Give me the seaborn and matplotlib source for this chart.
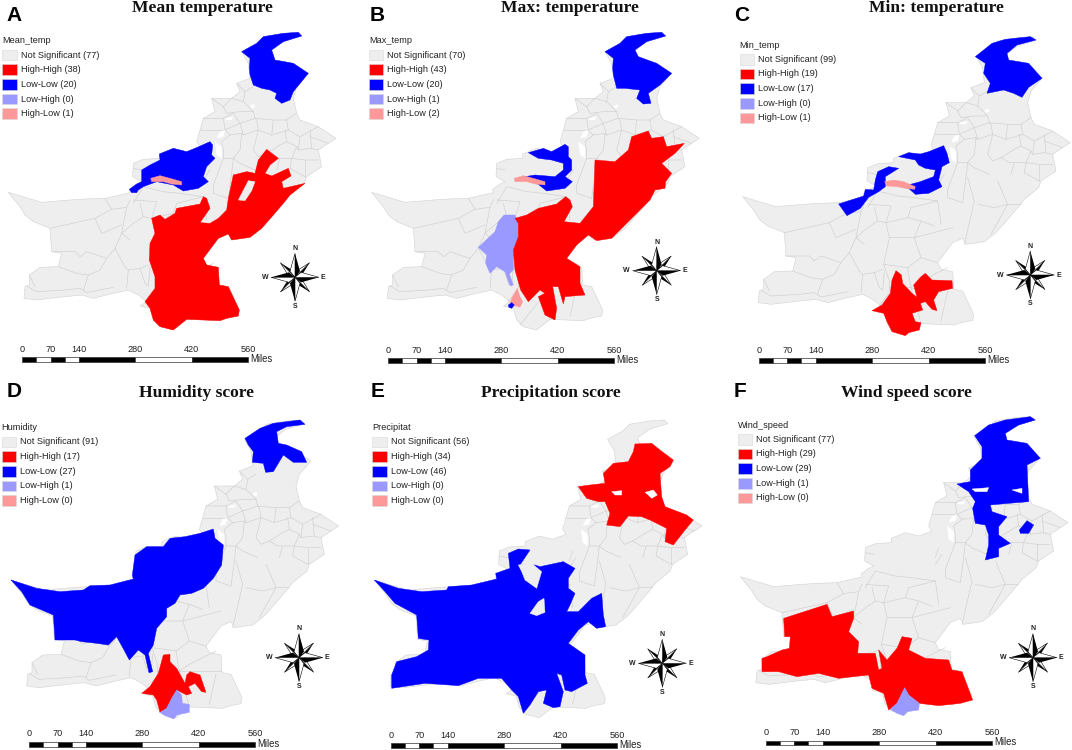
import matplotlib
matplotlib.use("Agg")
import matplotlib.pyplot as plt
import pandas as pd
import seaborn as sns

sns.set_theme(style="white")
plt.rcParams["font.family"] = ["Liberation Sans", "DejaVu Sans"]

GREY, RED, BLUE, LAV, PINK = "#eeeeee", "#ff0000", "#0000ff", "#9999ff", "#ff9999"
LEGEND_LABELS = ["Not Significant", "High-High", "Low-Low", "Low-High", "High-Low"]
LEGEND_COLORS = [GREY, RED, BLUE, LAV, PINK]
SCALE_LABELS = [0, 70, 140, 280, 420, 560]
SCALE_STOPS = [0, 35, 70, 105, 140, 280, 420, 560]

# Outline of the country, in the coordinates of panel A
country = [(25,577),(75,592),(125,607),(210,600),(255,597),(315,595),(390,578),(388,568),(410,552),(425,545),(398,530),(400,490),
           (430,478),(478,475),(478,462),(520,445),(560,455),(600,440),(590,425),(600,390),(610,355),(645,335),(635,295),(695,295),
           (720,275),(710,250),(750,235),(745,190),(725,155),(770,130),(790,110),(850,100),(895,97),(905,108),(850,125),(815,150),
           (825,180),(880,190),(925,220),(890,260),(880,295),(890,340),(900,360),(955,380),(1008,415),(985,430),(955,450),(965,500),
           (920,530),(913,550),(870,585),(850,610),(820,645),(785,685),(750,712),(695,720),(685,702),(655,715),(610,775),(620,795),
           (655,802),(658,855),(685,860),(718,930),(715,948),(680,955),(660,962),(560,958),(520,990),(480,980),(460,960),(450,925),
           (420,918),(440,905),(415,885),(385,870),(340,880),(280,895),(245,885),(195,890),(110,900),(72,895),(75,860),(88,855),
           (88,825),(120,802),(175,800),(185,760),(155,755),(150,685),(100,665),(75,645),(60,620)]
holes = [[(645,425),(665,440),(665,475),(650,465)], [(650,415),(660,395),(675,390),(670,410)],
         [(675,355),(700,350),(695,360),(680,360)], [(750,318),(762,312),(765,322),(755,326)]]

# District boundaries, in the coordinates of panel A
districts = [
    [(710,250),(735,275),(730,305),(695,295)], [(735,275),(760,260)], [(730,305),(760,335),(765,355)],
    [(695,295),(670,320),(635,295)], [(670,320),(680,340),(720,335),(760,335)], [(610,355),(670,355),(700,340)],
    [(670,355),(675,390),(720,370),(765,355)], [(700,340),(720,370),(730,405),(775,390),(770,360),(765,355)],
    [(600,390),(650,390),(675,390)], [(675,390),(690,405),(725,400),(730,405)], [(690,405),(665,425),(670,450),(670,475)],
    [(725,400),(720,450),(700,475)], [(765,355),(820,360),(860,360),(890,340)], [(820,360),(815,405),(775,390)],
    [(775,390),(760,450),(775,470),(800,460)], [(860,360),(865,390),(815,405)], [(865,390),(900,410),(955,380)],
    [(900,410),(895,450),(930,445),(955,450)], [(930,410),(985,430)], [(930,390),(935,445)], [(800,460),(840,435),(860,425),(890,440),(895,450)],
    [(860,425),(855,390)], [(890,440),(875,475),(915,480),(955,480)], [(800,460),(825,475),(875,475)], [(915,480),(915,530)],
    [(875,475),(870,505),(915,530)], [(840,475),(830,510)], [(670,475),(700,475),(720,490),(765,510)], [(670,475),(640,555),(640,580),(685,595)],
    [(700,475),(695,520),(685,595)], [(630,510),(610,540)], [(620,490),(610,520)],
    [(610,590),(530,610),(520,640),(455,655)], [(455,655),(430,650),(400,670),(365,700)], [(520,640),(560,650),(600,665)],
    [(430,560),(490,575),(540,580),(610,590)], [(400,600),(470,605),(455,655)], [(400,505),(425,510)],
    [(455,655),(465,700),(448,780),(465,830),(465,865),(435,905)], [(560,650),(540,700),(560,760),(610,775)],
    [(465,700),(540,700),(655,670)], [(448,780),(520,790),(560,760)], [(520,790),(530,850),(465,850)], [(530,850),(655,850)],
    [(530,850),(560,958)], [(610,590),(620,660)], [(640,790),(560,830),(530,850)], [(640,860),(620,950)], [(470,975),(530,900)],
    [(700,520),(720,590),(690,720)], [(790,530),(820,600),(770,690)], [(730,600),(780,610),(820,600),(860,600)],
    [(315,595),(335,628),(285,655),(150,685)], [(335,628),(380,622)], [(285,655),(305,700),(365,675)],
    [(390,600),(380,622),(365,700),(345,745),(320,775),(300,810),(265,825),(250,870)],
    [(155,755),(225,755),(240,770),(260,755),(310,772),(320,775)], [(175,800),(230,820),(265,825)],
    [(345,745),(375,800),(385,810),(380,865)], [(385,810),(420,805),(445,795)], [(420,805),(435,850),(445,858),(450,800)],
    [(80,858),(110,875),(195,870),(240,865),(260,878),(340,862)], [(88,825),(105,860)], [(365,700),(390,720)],
    [(400,610),(430,560)], [(430,650),(420,610)],
]

# Panel A regions, in the coordinates of its own crop
a_blue_north = [(725,155),(770,130),(790,110),(850,100),(895,97),(905,108),(850,125),(815,150),(825,180),(880,190),(925,220),
                (880,275),(870,300),(845,310),(825,295),(830,280),(810,270),(785,265),(760,255),(750,225),(748,205),(750,175)]
a_blue_mid = [(388,568),(410,552),(425,545),(425,510),(450,495),(480,480),(478,462),(520,445),(560,455),(585,445),(630,425),
              (638,435),(635,465),(645,475),(620,500),(610,530),(625,545),(595,565),(550,573),(520,555),(470,545),(430,560),
              (415,570),(410,578),(395,578)]
a_pink = [(452,535),(480,527),(510,535),(545,545),(545,555),(515,552),(490,545),(455,545)]
a_red = [(455,655),(480,645),(495,658),(525,640),(530,625),(600,612),(610,590),(620,595),(630,625),(600,668),(630,670),(655,655),
         (680,630),(685,595),(700,525),(740,515),(765,520),(775,480),(800,448),(835,475),(810,495),(795,520),(815,528),(865,505),
         (873,528),(845,545),(850,565),(915,550),(870,585),(850,610),(820,645),(785,685),(750,712),(695,720),(685,702),(655,715),
         (610,775),(620,795),(655,802),(658,855),(685,860),(718,930),(715,948),(680,955),(660,962),(560,958),(520,990),(480,980),
         (460,960),(450,925),(435,905),(465,865),(465,830),(448,780),(450,730),(465,700)]
a_gap = [(715,600),(745,542),(765,545),(755,572),(735,602)]

# Panel B regions
b_blue_north = [(750,155),(795,130),(815,110),(875,100),(920,97),(932,108),(875,125),(840,150),(850,170),(905,190),(950,220),
                (915,255),(880,280),(888,310),(865,312),(845,295),(855,270),(810,265),(785,265),(775,225),(773,205),(775,175)]
b_blue_mid = [(520,458),(565,445),(590,455),(630,433),(640,440),(640,470),(650,480),(650,510),(630,530),(652,545),(630,565),
              (575,573),(540,545),(510,530),(540,525),(600,530),(625,510),(625,490),(590,480),(550,475)]
b_pink_top = [(477,535),(505,527),(535,535),(570,545),(570,555),(540,552),(515,545),(480,545)]
b_pink_low = [(470,895),(487,865),(495,890),(503,905),(495,922),(465,912)]
b_blue_dot = [(460,915),(470,908),(478,915),(470,925),(462,922)]
b_lav = [(370,742),(420,695),(430,665),(447,645),(480,645),(490,670),(490,710),(475,750),(475,810),(463,822),(475,855),(465,857),
         (450,815),(425,800),(405,820),(392,790),(395,765)]
b_red = [(480,655),(515,645),(550,625),(605,612),(632,590),(645,600),(652,620),(627,665),(675,670),(715,620),(720,480),(780,485),
         (820,450),(830,410),(880,393),(890,415),(925,410),(935,440),(988,430),(960,460),(920,490),(950,520),(932,545),(930,565),
         (900,570),(885,600),(845,640),(805,680),(770,715),(725,722),(700,705),(665,735),(635,775),(675,800),(675,850),(690,885),
         (630,890),(625,912),(610,860),(593,860),(605,925),(600,960),(570,945),(550,890),(570,880),(555,870),(520,905),(497,870),
         (480,810),(475,750),(490,710),(490,670)]

# Panel C regions
c_blue_north = [(790,170),(840,130),(880,118),(955,110),(972,120),(915,135),(885,160),(890,180),(950,190),(990,235),(950,262),
                (930,292),(905,280),(875,270),(825,280),(835,250),(815,220),(820,190)]
c_blue_mid = [(560,470),(590,458),(625,462),(650,455),(695,437),(705,460),(712,488),(690,500),(680,540),(690,560),(650,580),
              (610,583),(590,565),(570,560),(625,545),(665,530),(670,510),(640,505),(620,495),(610,480)]
c_blue_west = [(380,612),(455,588),(460,568),(485,570),(490,540),(497,515),(530,500),(560,505),(520,530),(520,560),(500,575),
               (470,592),(445,625),(405,647)]
c_pink = [(518,545),(545,540),(575,545),(610,560),(608,568),(580,565),(555,560),(525,558)]
c_red = [(552,812),(568,825),(572,850),(600,880),(615,892),(605,855),(625,832),(640,820),(660,840),(720,842),(722,865),(680,875),
         (665,900),(675,932),(660,928),(640,905),(625,910),(632,930),(600,940),(610,965),(627,968),(622,990),(590,998),(580,1007),
         (540,995),(525,965),(515,940),(480,932),(510,915),(535,880),(540,840)]

# Panel D regions
d_blue_north = [(735,190),(780,160),(820,145),(900,135),(915,148),(860,155),(830,170),(835,205),(860,210),(905,230),(920,262),
                (880,262),(850,240),(820,290),(797,292),(790,265),(757,262),(760,230),(745,210)]
d_blue_big = [(33,615),(110,640),(180,650),(250,645),(270,632),(330,630),(400,612),(397,600),(405,540),(440,515),(490,515),(510,490),
              (555,485),(600,475),(640,462),(645,490),(670,510),(665,570),(640,610),(610,640),(575,655),(540,660),(525,685),(500,700),
              (500,725),(470,760),(460,810),(445,835),(458,890),(447,893),(435,840),(415,825),(388,855),(372,825),(350,785),(325,810),
              (290,805),(245,800),(225,795),(165,795),(160,720),(90,690),(65,650)]
d_red = [(490,840),(510,838),(510,860),(530,880),(555,925),(560,900),(570,890),(600,900),(618,952),(605,950),(585,925),(565,935),
         (575,955),(560,960),(530,945),(515,970),(500,1000),(480,1012),(470,975),(460,960),(425,955),(450,935),(475,895)]
d_lav = [(530,945),(545,960),(547,985),(568,988),(568,1012),(530,1020),(522,1032),(495,1022),(480,1012),(500,1000),(515,970)]

# Panel E regions
e_red = [(840,207),(890,205),(915,225),(955,255),(945,275),(915,295),(920,365),(930,395),(995,420),(1015,435),(990,465),(955,510),
         (930,500),(935,460),(885,435),(860,425),(820,423),(795,455),(755,450),(765,415),(750,380),(730,380),(695,370),(670,335),
         (705,330),(750,325),(745,295),(775,265),(820,260),(835,230)]
e_blue = [(58,615),(130,640),(200,650),(275,645),(280,635),(350,630),(425,612),(422,595),(465,580),(460,535),(490,522),(525,525),
          (495,570),(540,570),(555,575),(625,560),(660,580),(640,610),(640,640),(660,655),(645,690),(635,710),(670,710),(710,670),
          (740,655),(745,720),(752,755),(725,760),(700,740),(670,765),(640,805),(690,840),(690,900),(697,925),(650,950),(630,945),
          (620,900),(605,895),(625,950),(615,995),(595,998),(565,985),(575,945),(550,950),(525,990),(505,1015),(490,965),(470,945),
          (440,910),(370,910),(310,932),(210,925),(110,940),(110,900),(125,860),(185,845),(220,825),(222,795),(190,790),(185,720),
          (120,685),(90,650)]
e_gap_1 = [(490,570),(530,565),(560,590),(545,640),(510,615),(500,590)]
e_gap_2 = [(525,715),(550,680),(567,670),(570,712),(545,722)]
e_hole_1 = [(770,350),(800,347),(800,360),(780,360)]
e_hole_2 = [(870,352),(895,345),(907,360),(890,370),(880,360)]

# Panel F regions
f_blue = [(788,182),(830,150),(880,135),(955,125),(970,135),(920,150),(880,175),(885,195),(945,205),(985,250),(945,270),(950,380),
          (890,385),(835,390),(840,410),(885,425),(860,455),(860,480),(895,505),(860,520),(860,545),(820,555),(830,510),(830,480),
          (820,450),(790,445),(782,400),(790,380),(770,350),(735,327),(775,320),(775,285),(810,250),(810,215)]
f_blue_dot = [(922,465),(945,437),(965,450),(950,475),(925,475)]
f_hole_1 = [(780,342),(830,338),(825,350),(790,350)]
f_hole_2 = [(900,345),(930,340),(930,355),(915,350)]
f_lav = [(578,938),(590,960),(622,985),(620,1005),(585,1010),(575,1022),(555,1015),(535,1003),(555,985)]
f_red = [(150,850),(165,845),(210,825),(232,820),(235,785),(218,785),(215,730),(345,688),(360,725),(425,708),(425,730),(410,770),
         (440,800),(437,835),(490,835),(500,885),(510,880),(500,825),(525,855),(555,820),(570,785),(600,790),(590,825),(640,850),
         (710,855),(720,885),(750,890),(782,975),(745,985),(680,992),(622,985),(590,960),(578,938),(555,985),(530,1005),(515,955),
         (480,940),(470,900),(380,910),(320,895),(255,905),(200,890),(150,890)]

panels = [
    dict(letter="A", title="Mean temperature", field="Mean_temp", counts=[77,38,20,0,1], crop=(0,0), shift=(0,0),
         title_xy=(607,24), letter_xy=(42,46), legend_xy=(7,122), scale_xy=(67,1078), rose=(885,832),
         regions=[(a_blue_north,BLUE),(a_blue_mid,BLUE),(a_pink,PINK),(a_red,RED),(a_gap,GREY)]),
    dict(letter="B", title="Max: temperature", field="Max_temp", counts=[70,43,20,1,2], crop=(355,0), shift=(25,0),
         title_xy=(645,24), letter_xy=(68,46), legend_xy=(42,122), scale_xy=(100,1081), rose=(905,812),
         regions=[(b_blue_north,BLUE),(b_blue_mid,BLUE),(b_pink_top,PINK),(b_lav,LAV),(b_red,RED),(b_pink_low,PINK),(b_blue_dot,BLUE)]),
    dict(letter="C", title="Min: temperature", field="Min_temp", counts=[99,19,17,0,1], crop=(712,0), shift=(67,13),
         title_xy=(672,24), letter_xy=(88,46), legend_xy=(83,135), scale_xy=(141,1081), rose=(955,825),
         regions=[(c_blue_north,BLUE),(c_blue_mid,BLUE),(c_blue_west,BLUE),(c_pink,PINK),(c_red,RED)]),
    dict(letter="D", title="Humidity score", field="Humidity", counts=[91,17,27,1,0], crop=(0,375), shift=(8,38),
         title_xy=(590,55), letter_xy=(42,50), legend_xy=(5,158), scale_xy=(88,1108), rose=(897,848),
         regions=[(d_blue_north,BLUE),(d_blue_big,BLUE),(d_red,RED),(d_lav,LAV)]),
    dict(letter="E", title="Precipitation score", field="Precipitat", counts=[56,34,46,0,0], crop=(355,375), shift=(33,38),
         title_xy=(587,55), letter_xy=(67,50), legend_xy=(52,158), scale_xy=(108,1112), rose=(922,865),
         regions=[(e_red,RED),(e_hole_1,"white"),(e_hole_2,"white"),(e_blue,BLUE),(e_gap_1,GREY),(e_gap_2,GREY)]),
    dict(letter="F", title="Wind speed score", field="Wind_speed", counts=[77,29,29,1,0], crop=(712,375), shift=(60,28),
         title_xy=(582,55), letter_xy=(85,50), legend_xy=(78,150), scale_xy=(162,1104), rose=(963,848),
         regions=[(f_blue,BLUE),(f_blue_dot,BLUE),(f_hole_1,"white"),(f_hole_2,"white"),(f_red,RED),(f_lav,LAV)]),
]

W, H = 1072, 750
fig = plt.figure(figsize=(W / 100, H / 100), dpi=100, facecolor="white")


def poly(ax, pts, color, dx=0, dy=0, edge=None, lw=0.0, z=2):
    xs = [p[0] + dx for p in pts]
    ys = [p[1] + dy for p in pts]
    ax.fill(xs, ys, facecolor=color, edgecolor=edge or color, linewidth=lw, zorder=z)


def draw_rose(ax, cx, cy):
    long_r, short_r, w = 72, 44, 15
    for sx, sy in [(0, -1), (1, 0), (0, 1), (-1, 0)]:
        px, py = -sy, sx
        tip = (cx + sx * long_r, cy + sy * long_r)
        poly(ax, [(cx, cy), tip, (cx + px * w + sx * 18, cy + py * w + sy * 18)], "black", z=6)
        poly(ax, [(cx, cy), tip, (cx - px * w + sx * 18, cy - py * w + sy * 18)], "white", edge="black", lw=0.4, z=6)
    for sx, sy in [(1, -1), (1, 1), (-1, 1), (-1, -1)]:
        px, py = -sy, sx
        tip = (cx + sx * short_r, cy + sy * short_r)
        poly(ax, [(cx, cy), tip, (cx + px * 10, cy + py * 10)], "black", z=5)
        poly(ax, [(cx, cy), tip, (cx - px * 10, cy - py * 10)], "white", edge="black", lw=0.4, z=5)
    for lab, ox, oy in [("N", 0, -86), ("S", 0, 86), ("W", -90, 0), ("E", 85, 0)]:
        ax.text(cx + ox, cy + oy, lab, fontsize=5, fontweight="bold", ha="center", va="center", color="#222222")


def draw_scale(ax, x0, y):
    per_mile = 678 / 560
    for i, (a, b) in enumerate(zip(SCALE_STOPS[:-1], SCALE_STOPS[1:])):
        ax.fill([x0 + a * per_mile, x0 + b * per_mile, x0 + b * per_mile, x0 + a * per_mile],
                [y - 7, y - 7, y + 7, y + 7], facecolor="black" if i % 2 == 0 else "white",
                edgecolor="#333333", linewidth=0.5, zorder=4)
    for v in SCALE_LABELS:
        ax.text(x0 + v * per_mile, y - 31, str(v), fontsize=6.6, ha="center", va="center", color="#222222")
    ax.text(x0 + 685, y - 2, "Miles", fontsize=6.9, ha="left", va="center", color="#222222")


rows = [(i, x, y) for i, line in enumerate(districts) for x, y in line]
district_df = pd.DataFrame(rows, columns=["line", "x", "y"])

for p in panels:
    cx, cy = p["crop"]
    ax = fig.add_axes([cx / W, 1 - (cy + 375) / H, 360 / W, 375 / H])
    ax.axis("off")
    ax.patch.set_alpha(0)
    dx, dy = p["shift"]
    poly(ax, country, GREY, dx, dy, edge="#d2d2d2", lw=0.4, z=1)
    shifted = district_df.assign(x=district_df.x + dx, y=district_df.y + dy)
    sns.lineplot(data=shifted, x="x", y="y", units="line", estimator=None, sort=False, color="#cfcfcf",
                 linewidth=0.45, legend=False, ax=ax, zorder=1.5)
    for h in holes:
        poly(ax, h, "white", dx, dy, z=1.8)
    for pts, color in p["regions"]:
        poly(ax, pts, color, z=2, lw=0.3)
    ax.set_xlim(0, 1080)
    ax.set_ylim(1125, 0)

    ax.text(*p["title_xy"], p["title"], family="Liberation Serif", fontweight="bold", fontsize=12.6,
            ha="center", va="center", color="#111111")
    ax.text(*p["letter_xy"], p["letter"], fontweight="bold", fontsize=15, ha="center", va="center", color="black")

    lx, ly = p["legend_xy"]
    ax.text(lx, ly, p["field"], fontsize=6.6, ha="left", va="center", color="#222222")
    for i, (lab, col, n) in enumerate(zip(LEGEND_LABELS, LEGEND_COLORS, p["counts"])):
        yc = ly + 43 + i * 44
        ax.fill([lx, lx + 43, lx + 43, lx], [yc - 16, yc - 16, yc + 16, yc + 16], facecolor=col,
                edgecolor="#d8d8d8", linewidth=0.4, zorder=3)
        ax.text(lx + 55, yc, f"{lab} ({n})", fontsize=6.6, ha="left", va="center", color="#222222")

    draw_scale(ax, *p["scale_xy"])
    draw_rose(ax, *p["rose"])

fig.savefig("out.png", dpi=100)
